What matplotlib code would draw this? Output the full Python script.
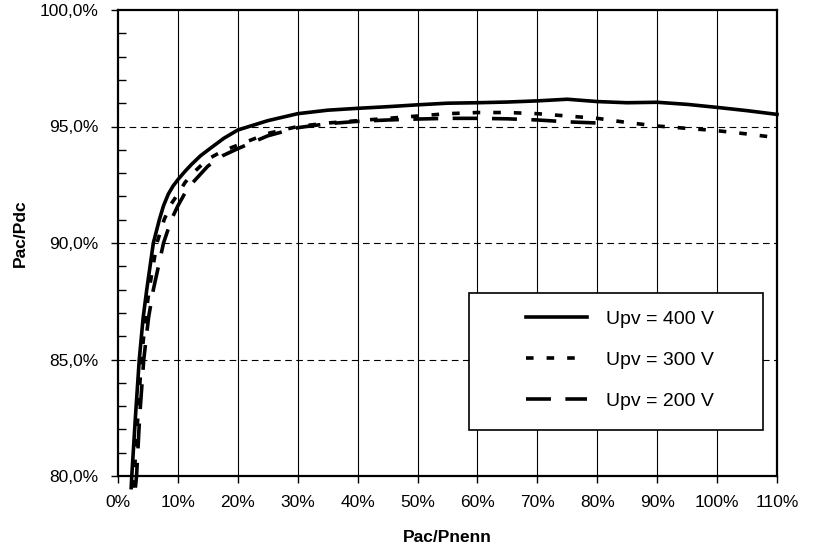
import matplotlib
matplotlib.use("Agg")
import matplotlib.pyplot as plt
import matplotlib.ticker as ticker
from matplotlib.patches import Rectangle

plt.rcParams['font.family'] = ['Liberation Sans', 'DejaVu Sans']

# --- Data ---
x_400 = [2.2, 2.3, 2.9, 3.55, 4.2, 4.8, 5.9, 6.9, 7.6, 8.4, 9.2, 10.1, 11.2, 12.3, 13.8, 15.6,
         17.7, 20, 25, 30, 35, 40, 45, 50, 55, 60, 65, 70, 75, 80, 85, 90, 95, 100, 105, 110]
y_400 = [79.5, 80.0, 82.5, 85.0, 86.8, 88.0, 90.0, 91.0, 91.6, 92.1, 92.45, 92.75, 93.08, 93.38,
         93.75, 94.1, 94.5, 94.85, 95.25, 95.55, 95.7, 95.78, 95.85, 95.93, 96.0, 96.02, 96.05,
         96.1, 96.17, 96.07, 96.02, 96.04, 95.95, 95.82, 95.68, 95.52]

x_300 = [2.5, 2.7, 3.3, 3.9, 4.6, 5.2, 6.5, 7.7, 8.8, 10, 11.2, 12.5, 15, 17.5, 20, 25, 30, 35,
         40, 45, 50, 55, 60, 65, 70, 75, 80, 85, 90, 95, 100, 105, 110]
y_300 = [79.5, 80.0, 82.5, 85.0, 86.8, 88.0, 90.0, 91.0, 91.65, 92.1, 92.6, 93.0, 93.6, 93.95,
         94.2, 94.7, 95.0, 95.15, 95.25, 95.35, 95.45, 95.55, 95.6, 95.6, 95.55, 95.45, 95.35,
         95.17, 95.02, 94.92, 94.82, 94.68, 94.52]

x_200 = [2.9, 3.1, 3.6, 4.3, 5.1, 5.9, 7.6, 8.9, 10, 11.2, 12.5, 15, 17.5, 20, 25, 30, 35, 40,
         45, 50, 55, 60, 65, 70, 75, 80, 82]
y_200 = [79.5, 80.0, 82.5, 85.0, 86.8, 88.0, 90.0, 91.0, 91.6, 92.15, 92.6, 93.3, 93.75, 94.05,
         94.6, 94.95, 95.12, 95.22, 95.28, 95.32, 95.35, 95.35, 95.33, 95.28, 95.2, 95.15, 95.13]

labels = ["Upv = 400 V", "Upv = 300 V", "Upv = 200 V"]
x_ticks = list(range(0, 111, 10))
y_ticks = [80, 85, 90, 95, 100]

# --- Figure ---
fig = plt.figure(figsize=(8.19, 5.57), dpi=100)
ax = fig.add_axes([118 / 819, 1 - 476 / 557, 659 / 819, 466 / 557])

lw = 2.6
ax.plot(x_400, y_400, color='black', lw=lw, ls='-', label=labels[0], clip_on=False, zorder=4)
ax.plot(x_300, y_300, color='black', lw=lw, ls=(0, (2.1, 3.6)), label=labels[1],
        clip_on=False, zorder=4)
ax.plot(x_200, y_200, color='black', lw=lw, ls=(0, (6.9, 4.0)), label=labels[2],
        clip_on=False, zorder=4)

ax.set_xlim(0, 110)
ax.set_ylim(80, 100)

# grid: solid verticals, dashed horizontals
for xv in x_ticks[1:-1]:
    ax.axvline(xv, color='black', lw=0.8, zorder=1)
for yv in y_ticks[1:-1]:
    ax.axhline(yv, color='black', lw=0.8, ls=(0, (6, 4)), zorder=1)

ax.set_xticks(x_ticks)
ax.set_yticks(y_ticks)
ax.yaxis.set_minor_locator(ticker.MultipleLocator(1))
ax.xaxis.set_major_formatter(ticker.FuncFormatter(lambda v, p: f"{v:.0f}%"))
ax.yaxis.set_major_formatter(ticker.FuncFormatter(lambda v, p: f"{v:.1f}%".replace('.', ',')))

ax.tick_params(axis='x', which='major', direction='out', length=5, width=1,
               labelsize=12.5, pad=9)
ax.tick_params(axis='y', which='major', direction='out', length=5, width=1,
               labelsize=12.5, pad=9)
ax.tick_params(axis='y', which='minor', direction='in', length=6, width=1)

for s in ax.spines.values():
    s.set_linewidth(1.6)
    s.set_color('black')

ax.set_xlabel("Pac/Pnenn", fontsize=12.5, fontweight='bold', labelpad=14)
ax.set_ylabel("Pac/Pdc", fontsize=12.5, fontweight='bold')
ax.yaxis.set_label_coords(-0.137, 0.52)

# --- Legend: box drawn separately, entries without frame ---
box = Rectangle((0.5326, 0.0987), 0.4462, 0.294, transform=ax.transAxes,
                facecolor='white', edgecolor='black', lw=1.2, zorder=5)
ax.add_patch(box)
leg = ax.legend(loc='center left', bbox_to_anchor=(0.619, 0.249), frameon=False,
                fontsize=14, handlelength=3.15, handletextpad=0.95, labelspacing=1.2,
                borderpad=0, borderaxespad=0)
leg.set_zorder(6)

fig.savefig("out.png", dpi=100)
